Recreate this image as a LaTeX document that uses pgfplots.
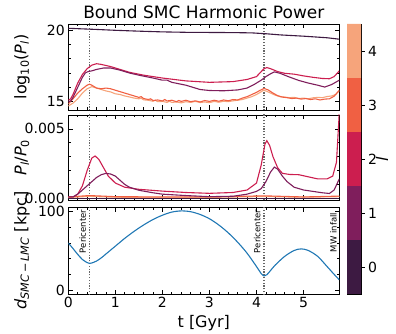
\documentclass[border=0pt]{standalone}
\usepackage{fontspec}
\setmainfont{DejaVu Sans}
\usepackage{pgfplots}
\pgfplotsset{compat=1.18}

\definecolor{lzero}{HTML}{3D1A42}
\definecolor{lone}{HTML}{7F1E5C}
\definecolor{ltwo}{HTML}{CC1E4F}
\definecolor{lthree}{HTML}{F06043}
\definecolor{lfour}{HTML}{F6A47B}
\definecolor{mplblue}{HTML}{1F77B4}
\definecolor{pergray}{HTML}{666666}

\pgfplotsset{
  panel/.style={
    scale only axis, width=271pt,
    xmin=0, xmax=5.76, xtick={0,...,5},
    tick align=inside, xtick pos=both, ytick pos=both,
    major tick length=4.5pt, minor tick length=2.5pt,
    minor x tick num=4,
    every tick/.style={black, line width=0.7pt},
    axis line style={line width=0.8pt},
    tick label style={font=\fontsize{14}{16}\selectfont},
    label style={font=\fontsize{16}{18}\selectfont},
    /pgf/number format/assume math mode=true,
    scaled y ticks=false,
    every axis plot/.append style={line width=1.1pt},
    ylabel style={at={(axis description cs:-0.171,0.5)}, anchor=center},
  },
  peri/.style={pergray, dash pattern=on 1.2pt off 1.6pt, line width=1.3pt},
}
\tikzset{plabel/.style={rotate=90, anchor=south east, font=\fontsize{8.5}{10}\selectfont, inner sep=1pt}}

\begin{document}
\begin{tikzpicture}
\useasboundingbox (0,0) rectangle (396pt,-334pt);
\node[font=\fontsize{17}{20}\selectfont] at (203.8pt,-12pt) {Bound SMC Harmonic Power};

% top panel: log10 power per harmonic
\begin{axis}[panel, at={(68.3pt,-24pt)}, anchor=north west, height=86pt,
  ymin=14.42, ymax=20.42, ytick={15,20}, minor y tick num=4, xticklabels={},
  ylabel={log\textsubscript{10}(\textit{P}\textsubscript{\textit{l}})}]
\addplot[peri] coordinates {(0.45,14) (0.45,21)};
\addplot[peri] coordinates {(4.16,14) (4.16,21)};
\addplot[lfour] coordinates {(0,14.7)(0.1,14.9)(0.2,15.2)(0.3,15.6)(0.4,15.9)(0.5,16.05)(0.6,15.95)(0.7,15.85)(0.8,15.75)(0.9,15.68)(1.0,15.55)(1.1,15.5)(1.2,15.4)(1.3,15.33)(1.4,15.25)(1.5,15.2)(1.55,15.24)(1.6,15.13)(1.7,15.1)(1.8,15.03)(1.85,15.1)(1.9,15.0)(2.0,15.02)(2.1,14.95)(2.15,15.03)(2.2,14.95)(2.3,14.98)(2.4,14.92)(2.5,15.0)(2.6,14.95)(2.7,15.02)(2.8,14.94)(2.9,14.98)(3.0,14.93)(3.1,15.02)(3.2,14.96)(3.3,15.03)(3.4,15.0)(3.5,15.06)(3.6,15.1)(3.7,15.15)(3.8,15.25)(3.9,15.35)(4.0,15.5)(4.08,15.65)(4.15,15.8)(4.22,15.72)(4.3,15.6)(4.4,15.45)(4.5,15.35)(4.6,15.32)(4.7,15.28)(4.8,15.3)(4.9,15.22)(5.0,15.25)(5.1,15.2)(5.2,15.27)(5.3,15.3)(5.4,15.28)(5.5,15.36)(5.6,15.4)(5.68,15.5)(5.76,15.75)};
\addplot[lthree] coordinates {(0,14.85)(0.1,15.2)(0.2,15.6)(0.3,15.9)(0.4,16.15)(0.45,16.22)(0.5,16.15)(0.6,15.95)(0.7,15.9)(0.8,15.95)(0.9,15.9)(1.0,15.8)(1.1,15.7)(1.2,15.6)(1.3,15.5)(1.4,15.4)(1.5,15.3)(1.55,15.35)(1.6,15.22)(1.7,15.15)(1.75,15.2)(1.8,15.08)(1.9,15.12)(2.0,15.05)(2.05,15.15)(2.1,15.05)(2.2,15.1)(2.3,15.0)(2.35,15.08)(2.4,15.02)(2.5,15.1)(2.6,15.0)(2.7,15.06)(2.8,14.98)(2.9,15.08)(3.0,15.02)(3.1,15.1)(3.2,15.03)(3.3,15.12)(3.4,15.06)(3.5,15.15)(3.6,15.12)(3.7,15.25)(3.8,15.35)(3.9,15.5)(4.0,15.65)(4.08,15.8)(4.16,15.92)(4.25,15.82)(4.35,15.6)(4.45,15.42)(4.55,15.32)(4.65,15.28)(4.75,15.22)(4.85,15.25)(4.95,15.18)(5.05,15.22)(5.15,15.15)(5.25,15.2)(5.35,15.12)(5.45,15.18)(5.55,15.2)(5.65,15.38)(5.76,15.8)};
\addplot[ltwo] coordinates {(0,15.1)(0.05,15.2)(0.1,15.5)(0.2,16.3)(0.3,16.9)(0.4,17.3)(0.5,17.55)(0.6,17.65)(0.7,17.6)(0.9,17.45)(1.1,17.25)(1.3,17.05)(1.6,16.85)(2.0,16.65)(2.5,16.45)(3.0,16.35)(3.5,16.4)(3.8,16.55)(4.0,16.75)(4.1,17.1)(4.16,17.3)(4.22,17.38)(4.3,17.3)(4.45,17.1)(4.6,16.98)(4.8,16.92)(5.0,16.8)(5.2,16.7)(5.4,16.62)(5.55,16.6)(5.65,16.75)(5.76,17.15)};
\addplot[lone] coordinates {(0,15.0)(0.05,15.05)(0.1,15.3)(0.2,16.0)(0.3,16.7)(0.36,17.0)(0.42,17.1)(0.5,17.15)(0.6,17.25)(0.75,17.35)(0.9,17.35)(1.1,17.2)(1.3,17.0)(1.5,16.85)(1.8,16.65)(2.0,16.5)(2.1,16.5)(2.2,16.35)(2.5,16.15)(2.8,15.85)(3.0,15.78)(3.3,15.76)(3.6,15.82)(3.8,15.95)(3.95,16.2)(4.0,16.3)(4.1,16.5)(4.2,16.75)(4.3,16.95)(4.38,17.08)(4.5,16.98)(4.7,16.72)(4.9,16.48)(5.1,16.3)(5.3,16.15)(5.45,16.02)(5.6,16.2)(5.76,16.5)};
\addplot[lzero] coordinates {(0,20.12)(0.3,20.08)(0.6,20.04)(1.0,19.98)(1.5,19.92)(2.0,19.87)(2.5,19.84)(3.0,19.83)(3.5,19.82)(3.9,19.8)(4.2,19.74)(4.5,19.66)(5.0,19.57)(5.5,19.46)(5.76,19.36)};
\end{axis}

% middle panel: normalised power
\begin{axis}[panel, at={(68.3pt,-115pt)}, anchor=north west, height=85pt,
  ymin=-0.00012, ymax=0.006, ytick={0,0.005}, yticklabels={0.000,0.005},
  minor y tick num=4, xticklabels={},
  ylabel={\textit{P}\textsubscript{\textit{l}}/\textit{P}\textsubscript{0}}]
\addplot[peri] coordinates {(0.45,-0.0005) (0.45,0.0065)};
\addplot[peri] coordinates {(4.16,-0.0005) (4.16,0.0065)};
\addplot[lfour] coordinates {(0,0.00006)(0.45,0.00014)(1,0.00008)(2,0.00007)(3,0.00007)(4.16,0.00013)(5,0.00008)(5.76,0.00012)};
\addplot[lthree] coordinates {(0,0.0001)(0.45,0.0002)(1,0.00012)(2,0.0001)(3,0.0001)(4.16,0.00018)(5,0.0001)(5.76,0.00016)};
\addplot[ltwo] coordinates {(0,0.0001)(0.1,0.0001)(0.2,0.0003)(0.3,0.0009)(0.4,0.002)(0.5,0.0029)(0.57,0.00305)(0.65,0.0028)(0.75,0.0022)(0.85,0.0016)(1.0,0.0011)(1.2,0.0008)(1.5,0.00065)(2.0,0.00052)(2.5,0.00042)(3.0,0.00036)(3.5,0.00042)(3.8,0.0006)(4.0,0.0011)(4.1,0.0024)(4.18,0.0039)(4.22,0.00415)(4.28,0.0038)(4.35,0.003)(4.45,0.0022)(4.55,0.0018)(4.7,0.00172)(4.9,0.0017)(5.1,0.00155)(5.3,0.0014)(5.5,0.0014)(5.62,0.0016)(5.7,0.0026)(5.76,0.0062)};
\addplot[lone] coordinates {(0,0.0001)(0.1,0.0001)(0.2,0.0003)(0.3,0.0006)(0.4,0.0009)(0.5,0.0012)(0.6,0.0015)(0.7,0.0017)(0.8,0.0018)(0.9,0.00175)(1.0,0.0016)(1.1,0.0013)(1.2,0.001)(1.3,0.0008)(1.5,0.00058)(1.8,0.0004)(2.0,0.0003)(2.5,0.0002)(3.0,0.00012)(3.5,0.00015)(3.8,0.0003)(4.0,0.0005)(4.1,0.0007)(4.2,0.0012)(4.3,0.0019)(4.38,0.00225)(4.45,0.0021)(4.55,0.0016)(4.65,0.0012)(4.8,0.0008)(5.0,0.0006)(5.2,0.0005)(5.4,0.0004)(5.55,0.00035)(5.65,0.0006)(5.76,0.0014)};
\addplot[lzero] coordinates {(0,0.0)(5.76,0.0)};
\end{axis}

% bottom panel: SMC-LMC distance
\begin{axis}[panel, at={(68.3pt,-207pt)}, anchor=north west, height=87pt,
  ymin=-5.1, ymax=106, ytick={0,100}, minor y tick num=4,
  xlabel={t [Gyr]},
  ylabel={\textit{d}\textsubscript{\textit{SMC}\,−\,\textit{LMC}} [kpc]}]
\addplot[peri] coordinates {(0.45,-10) (0.45,120)};
\addplot[peri] coordinates {(4.16,-10) (4.16,120)};
\addplot[mplblue, smooth] coordinates {(0,60)(0.1,53)(0.2,45.5)(0.3,39)(0.4,35)(0.45,34)(0.5,34.5)(0.6,37)(0.7,41)(0.8,46)(1.0,56)(1.2,66)(1.4,75)(1.6,83)(1.8,90)(2.0,95.5)(2.2,99.5)(2.4,101)(2.6,100)(2.8,96.5)(3.0,91)(3.2,83)(3.4,73)(3.6,61)(3.8,47)(4.0,30)(4.1,21)(4.16,18)(4.22,19.5)(4.3,25)(4.4,32)(4.6,43)(4.8,50.5)(4.95,52.5)(5.1,50.5)(5.3,43)(5.5,30)(5.65,20)(5.76,13)};
\node[plabel] at (axis cs:0.4,104) {Pericenter};
\node[plabel] at (axis cs:4.11,104) {Pericenter};
\node[plabel] at (axis cs:5.73,100) {MW infall};
\end{axis}

% discrete colour bar for l
\begin{axis}[scale only axis, at={(347pt,-24pt)}, anchor=north west,
  width=14pt, height=270pt, xmin=0, xmax=1, ymin=-0.5, ymax=4.5,
  xtick=\empty, ytick={0,...,4}, ytick pos=right, yticklabel pos=right,
  tick align=outside, major tick length=3.5pt,
  every tick/.style={black, line width=0.7pt},
  axis line style={line width=0.6pt},
  tick label style={font=\fontsize{14}{16}\selectfont},
  /pgf/number format/assume math mode=true,
  ylabel={\textit{l}}, ylabel style={font=\fontsize{16}{18}\selectfont, at={(axis description cs:2.5,0.5)}, anchor=center}]
\addplot[fill=lzero, draw=none] coordinates {(0,-0.5)(1,-0.5)(1,0.5)(0,0.5)(0,-0.5)};
\addplot[fill=lone, draw=none] coordinates {(0,0.5)(1,0.5)(1,1.5)(0,1.5)(0,0.5)};
\addplot[fill=ltwo, draw=none] coordinates {(0,1.5)(1,1.5)(1,2.5)(0,2.5)(0,1.5)};
\addplot[fill=lthree, draw=none] coordinates {(0,2.5)(1,2.5)(1,3.5)(0,3.5)(0,2.5)};
\addplot[fill=lfour, draw=none] coordinates {(0,3.5)(1,3.5)(1,4.5)(0,4.5)(0,3.5)};
\end{axis}
\end{tikzpicture}
\end{document}
